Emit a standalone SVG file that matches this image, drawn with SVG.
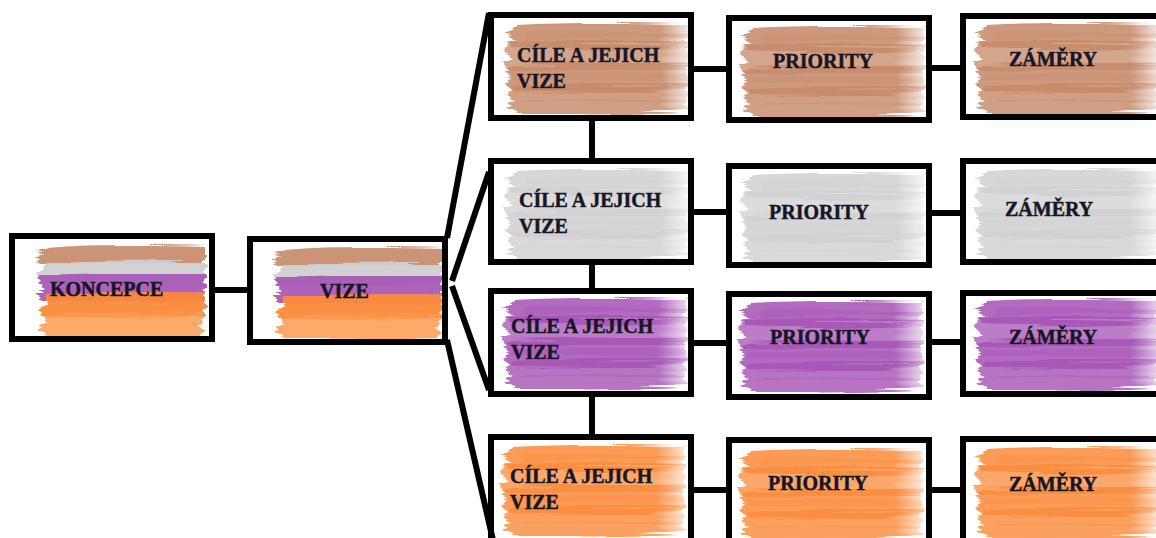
<svg xmlns="http://www.w3.org/2000/svg" xmlns:xlink="http://www.w3.org/1999/xlink" width="1156" height="538" viewBox="0 0 1156 538">
  <style>
    .box { fill: none; stroke: #000; stroke-width: 6; }
    .wire { stroke: #000; stroke-width: 6; fill: none; stroke-linecap: butt; }
    .lbl { font-family: "Liberation Serif", "Times New Roman", serif; font-weight: bold; font-size: 20px; fill: #161626; stroke: #161626; stroke-width: 0.45; }
    .paint { filter: url(#brush); }
  </style>
  <defs>
    <!-- ragged, streaky paint edges -->
    <filter id="brush" x="-8%" y="-12%" width="116%" height="124%">
      <feTurbulence type="fractalNoise" baseFrequency="0.006 0.2" numOctaves="2" seed="4" result="n"/>
      <feDisplacementMap in="SourceGraphic" in2="n" scale="14" xChannelSelector="R" yChannelSelector="G" result="d"/>
      <feGaussianBlur in="d" stdDeviation="0.7"/>
    </filter>
    <linearGradient id="gBrown"><stop offset="0" stop-color="#c58866"/><stop offset="0.85" stop-color="#c58866"/><stop offset="1" stop-color="#c58866" stop-opacity="0.25"/></linearGradient>
    <linearGradient id="gGray"><stop offset="0" stop-color="#d0d0d0"/><stop offset="0.85" stop-color="#d0d0d0"/><stop offset="1" stop-color="#d0d0d0" stop-opacity="0.25"/></linearGradient>
    <linearGradient id="gPurple"><stop offset="0" stop-color="#a452b4"/><stop offset="0.85" stop-color="#a452b4"/><stop offset="1" stop-color="#a452b4" stop-opacity="0.3"/></linearGradient>
    <linearGradient id="gOrange"><stop offset="0" stop-color="#fa8a3a"/><stop offset="0.85" stop-color="#fa8a3a"/><stop offset="1" stop-color="#fa8a3a" stop-opacity="0.3"/></linearGradient>
    <!-- one painted swatch: four overlapping horizontal strokes -->
    <g id="sw">
      <path fill-opacity=".85" d="M16,3 C70,0 130,1 186,2 L186,24 C120,26 60,27 10,25 L3,21 L12,17 L1,12 L10,8 Z"/>
      <path fill-opacity=".75" d="M8,21 C70,18 130,19 186,20 L186,46 C120,48 60,48 6,47 L0,40 L9,35 L2,29 Z"/>
      <path fill-opacity=".85" d="M10,43 C70,41 130,42 186,42 L186,68 C120,70 60,70 12,69 L2,62 L10,57 L3,50 Z"/>
      <path fill-opacity=".8" d="M14,64 C70,62 130,63 186,64 L184,88 C120,91 60,91 16,90 L6,84 L14,79 L4,72 Z"/>
      <path fill-opacity=".35" d="M20,12 L186,11 L186,16 L24,17 Z M14,54 L186,53 L186,58 L10,59 Z M18,78 L184,77 L184,81 L22,82 Z"/>
    </g>
    <!-- four-colour swatch used by the two root nodes -->
    <g id="mix">
      <path fill="#c58866" fill-opacity=".9" d="M14,4 C60,0 120,1 170,2 L170,20 C110,22 60,22 6,21 L0,16 L9,12 L2,8 Z"/>
      <path fill="#d0d0d0" fill-opacity=".95" d="M10,19 C60,17 120,18 170,18 L170,36 C110,37 60,37 6,36 L1,30 L8,26 Z"/>
      <path fill="#a452b4" fill-opacity=".9" d="M4,32 C60,30 120,30 170,30 L170,56 C110,58 60,58 8,57 L0,50 L10,45 L2,38 Z"/>
      <path fill="#fa8a3a" fill-opacity=".95" d="M12,50 C60,47 120,47 170,48 L170,72 C110,74 60,74 10,73 L3,66 L12,60 Z"/>
      <path fill="#fb9a50" fill-opacity=".85" d="M8,70 C60,68 120,68 168,69 L166,90 C110,92 60,92 12,91 L4,84 L12,78 Z"/>
    </g>
  </defs>

  <rect width="1156" height="538" fill="#fff"/>

  <g id="connectors">
    <line class="wire" x1="215" y1="290" x2="247" y2="290"/>
    <!-- fan out of VIZE -->
    <line class="wire" x1="447" y1="238" x2="489" y2="13"/>
    <line class="wire" x1="452" y1="281" x2="489" y2="172"/>
    <line class="wire" x1="452" y1="286" x2="489" y2="390"/>
    <line class="wire" x1="447" y1="340" x2="493" y2="540"/>
    <!-- spine between goal boxes -->
    <line class="wire" x1="592" y1="121" x2="592" y2="158"/>
    <line class="wire" x1="592" y1="265" x2="592" y2="288"/>
    <line class="wire" x1="592" y1="397" x2="592" y2="434"/>
    <!-- goals to priorities -->
    <line class="wire" x1="694" y1="69" x2="726" y2="69"/>
    <line class="wire" x1="694" y1="212" x2="726" y2="212"/>
    <line class="wire" x1="694" y1="343" x2="726" y2="343"/>
    <line class="wire" x1="694" y1="490" x2="726" y2="490"/>
    <!-- priorities to intentions -->
    <line class="wire" x1="932" y1="68" x2="960" y2="68"/>
    <line class="wire" x1="932" y1="213" x2="960" y2="213"/>
    <line class="wire" x1="932" y1="342" x2="960" y2="342"/>
    <line class="wire" x1="932" y1="490" x2="960" y2="490"/>
  </g>

  <g id="koncepce">
    <use href="#mix" class="paint" transform="translate(35,244)"/>
    <text class="lbl" x="50" y="296">KONCEPCE</text>
    <rect class="box" x="12" y="236" width="200" height="103"/>
  </g>
  <g id="vize">
    <use href="#mix" class="paint" transform="translate(272,246)"/>
    <text class="lbl" x="320" y="298">VIZE</text>
    <rect class="box" x="250" y="239" width="195" height="103"/>
  </g>

  <!-- row 1 -->
  <g id="cile-1">
    <use href="#sw" class="paint" fill="url(#gBrown)" transform="translate(502,22)"/>
    <text class="lbl" x="517" y="62">CÍLE A JEJICH<tspan x="517" dy="26">VIZE</tspan></text>
    <rect class="box" x="491" y="15" width="200" height="103"/>
  </g>
  <g id="priority-1">
    <use href="#sw" class="paint" fill="url(#gBrown)" transform="translate(738,25)"/>
    <text class="lbl" x="773" y="68">PRIORITY</text>
    <rect class="box" x="729" y="18" width="200" height="102"/>
  </g>
  <g id="zamery-1">
    <use href="#sw" class="paint" fill="url(#gBrown)" transform="translate(972,22)"/>
    <text class="lbl" x="1009" y="66">ZÁMĚRY</text>
    <rect class="box" x="963" y="16" width="230" height="101"/>
  </g>

  <!-- row 2 -->
  <g id="cile-2">
    <use href="#sw" class="paint" fill="url(#gGray)" transform="translate(502,168)"/>
    <text class="lbl" x="519" y="207">CÍLE A JEJICH<tspan x="519" dy="26">VIZE</tspan></text>
    <rect class="box" x="491" y="161" width="200" height="101"/>
  </g>
  <g id="priority-2">
    <use href="#sw" class="paint" fill="url(#gGray)" transform="translate(738,172)"/>
    <text class="lbl" x="769" y="219">PRIORITY</text>
    <rect class="box" x="729" y="166" width="200" height="99"/>
  </g>
  <g id="zamery-2">
    <use href="#sw" class="paint" fill="url(#gGray)" transform="translate(972,168)"/>
    <text class="lbl" x="1005" y="216">ZÁMĚRY</text>
    <rect class="box" x="963" y="161" width="230" height="101"/>
  </g>

  <!-- row 3 -->
  <g id="cile-3">
    <use href="#sw" class="paint" fill="url(#gPurple)" transform="translate(500,297)"/>
    <text class="lbl" x="511" y="333">CÍLE A JEJICH<tspan x="511" dy="26">VIZE</tspan></text>
    <rect class="box" x="491" y="291" width="200" height="103"/>
  </g>
  <g id="priority-3">
    <use href="#sw" class="paint" fill="url(#gPurple)" transform="translate(736,300)"/>
    <text class="lbl" x="770" y="344">PRIORITY</text>
    <rect class="box" x="729" y="294" width="200" height="103"/>
  </g>
  <g id="zamery-3">
    <use href="#sw" class="paint" fill="url(#gPurple)" transform="translate(972,298)"/>
    <text class="lbl" x="1009" y="344">ZÁMĚRY</text>
    <rect class="box" x="963" y="293" width="230" height="101"/>
  </g>

  <!-- row 4 -->
  <g id="cile-4">
    <use href="#sw" class="paint" fill="url(#gOrange)" transform="translate(498,444)"/>
    <text class="lbl" x="510" y="483">CÍLE A JEJICH<tspan x="510" dy="26">VIZE</tspan></text>
    <rect class="box" x="491" y="437" width="200" height="106"/>
  </g>
  <g id="priority-4">
    <use href="#sw" class="paint" fill="url(#gOrange)" transform="translate(736,448)"/>
    <text class="lbl" x="768" y="490">PRIORITY</text>
    <rect class="box" x="729" y="440" width="200" height="103"/>
  </g>
  <g id="zamery-4">
    <use href="#sw" class="paint" fill="url(#gOrange)" transform="translate(972,446)"/>
    <text class="lbl" x="1009" y="491">ZÁMĚRY</text>
    <rect class="box" x="963" y="439" width="230" height="104"/>
  </g>
</svg>
